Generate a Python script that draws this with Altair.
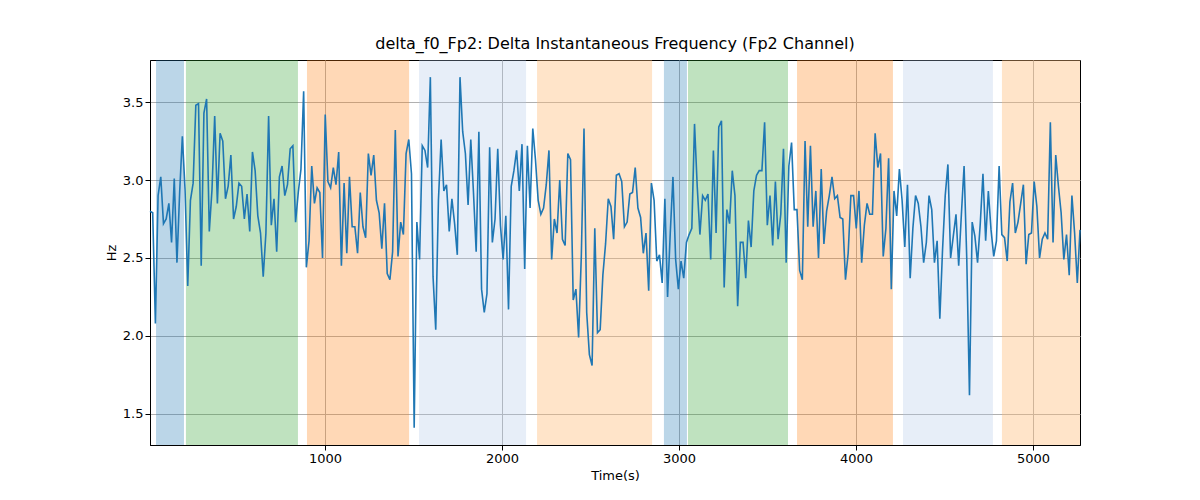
import altair as alt
import numpy as np
import pandas as pd

values = [
    2.80, 2.79, 2.08, 2.90, 3.02, 2.72, 2.75, 2.85, 2.60, 3.01, 2.47, 2.92, 3.28, 2.94, 2.32, 2.87,
    2.98, 3.48, 3.49, 2.45, 3.43, 3.52, 2.67, 2.94, 3.41, 2.85, 3.30, 3.25, 2.88, 2.96, 3.16, 2.75,
    2.83, 2.98, 2.96, 2.75, 2.91, 2.67, 3.18, 3.06, 2.77, 2.66, 2.38, 2.66, 3.41, 2.71, 2.88, 2.54,
    3.02, 3.09, 2.90, 2.97, 3.20, 3.22, 2.73, 2.92, 3.07, 3.57, 2.44, 2.61, 3.09, 2.85, 2.95, 2.92,
    2.50, 3.42, 2.99, 2.95, 3.08, 2.97, 3.18, 2.45, 2.98, 2.53, 3.02, 2.70, 2.70, 2.53, 2.92, 2.70,
    2.63, 3.17, 3.03, 3.16, 2.87, 2.79, 2.56,
    2.85, 2.40, 2.36, 2.54, 3.32, 2.51, 2.73, 2.65, 3.17, 3.26, 3.04, 1.41, 2.73, 2.49, 3.22, 3.19,
    3.08, 3.66, 2.38, 2.04, 2.87, 3.26, 2.93, 2.97, 2.67, 2.88, 2.72, 2.52, 3.66, 3.31, 3.17, 2.84,
    3.26, 2.92, 2.54, 3.31, 2.30, 2.15, 2.27, 3.21, 2.60, 2.75, 3.20, 2.71, 2.49, 2.77, 2.17, 2.96,
    3.06, 3.19, 2.93, 3.23, 2.43, 3.22, 2.82, 3.33, 3.13, 2.87, 2.78, 2.82, 2.97, 3.19, 2.49, 2.75,
    2.66, 3.00, 2.62, 2.58, 3.17, 3.13, 2.23, 2.30, 1.99, 2.51, 3.33, 2.15, 1.88, 1.81, 2.69, 2.02,
    2.04, 2.39, 2.59, 2.88, 2.83, 2.62, 3.03, 3.04,
    2.99, 2.70, 2.73, 2.91, 2.92, 3.08, 2.82, 2.76, 2.53, 2.66, 2.29, 2.98, 2.87, 2.48, 2.52, 2.34,
    2.88, 2.25, 2.66, 3.02, 2.49, 2.30, 2.48, 2.37, 2.60, 2.65, 2.69, 3.36, 2.96, 2.65, 2.90, 2.87,
    2.91, 2.49, 3.19, 2.66, 3.34, 3.38, 2.31, 2.81, 2.72, 3.06, 2.90, 2.19, 2.60, 2.60, 2.37, 2.74,
    2.57, 2.93, 3.03, 3.06, 3.06, 3.37, 2.71, 2.90, 2.58, 2.99, 2.62, 2.78, 3.20, 2.47, 3.09, 3.24,
    2.81, 2.81, 2.42, 2.36, 3.25, 2.70, 3.22, 2.70, 2.93, 2.50, 3.07, 2.59, 2.80, 2.90, 3.02, 2.88,
    2.90, 2.76, 2.75, 2.36, 2.53, 2.90, 2.90, 2.69,
    2.93, 2.47, 2.71, 2.85, 2.78, 2.78, 3.30, 3.08, 3.17, 2.51, 2.69, 3.14, 2.30, 2.93, 2.77, 3.07,
    2.87, 2.57, 2.97, 2.37, 2.69, 2.90, 2.85, 2.70, 2.47, 2.60, 2.90, 2.81, 2.47, 2.61, 2.11, 2.55,
    2.90, 3.10, 2.50, 2.64, 2.78, 2.45, 2.78, 3.09, 2.49, 1.62, 2.73, 2.64, 2.47, 2.72, 3.04, 2.61,
    2.93, 2.68, 2.51, 2.61, 3.09, 2.65, 2.63, 2.48, 2.86, 2.98, 2.66, 2.73, 2.85, 2.97, 2.46, 2.65,
    2.66, 2.99, 2.83, 2.50, 2.62, 2.66, 2.62, 3.37, 2.60, 3.16, 2.96, 2.79, 2.49, 2.65, 2.39, 2.90,
    2.66, 2.34, 2.68,
]
# evenly sampled time axis
times = np.linspace(11, 5266, len(values))

band_start = [45, 214, 898, 1531, 2198, 2915, 3051, 3667, 4266, 4825]
band_end = [203, 847, 1475, 2136, 2848, 3045, 3616, 4209, 4774, 5266]
band_color = ["#1f77b4", "#2ca02c", "#ff7f0e", "#aec7e8", "#ffbb78",
              "#1f77b4", "#2ca02c", "#ff7f0e", "#aec7e8", "#ffbb78"]
band_opacity = [0.3, 0.3, 0.3, 0.3, 0.4, 0.3, 0.3, 0.3, 0.3, 0.4]

line_df = pd.DataFrame({"t": times, "hz": values})
band_df = pd.DataFrame({"start": band_start, "end": band_end, "color": band_color, "op": band_opacity})

xs = alt.Scale(domain=[11, 5266], nice=False, zero=False)
ys = alt.Scale(domain=[1.3, 3.77], nice=False, zero=False)

bands = alt.Chart(band_df).mark_rect().encode(
    x=alt.X("start:Q", scale=xs),
    x2="end:Q",
    color=alt.Color("color:N", scale=None),
    opacity=alt.Opacity("op:Q", scale=None),
)

line = alt.Chart(line_df).mark_line(color="#1f77b4", strokeWidth=1.6).encode(
    x=alt.X(
        "t:Q",
        scale=xs,
        title="Time(s)",
        axis=alt.Axis(values=[1000, 2000, 3000, 4000, 5000], format="d", grid=True, gridColor="#b0b0b0",
                      labelFontSize=13, titleFontSize=13, titleFontWeight="normal",
                      tickColor="black", domainColor="black", labelColor="black"),
    ),
    y=alt.Y(
        "hz:Q",
        scale=ys,
        title="Hz",
        axis=alt.Axis(values=[1.5, 2.0, 2.5, 3.0, 3.5], format=".1f", grid=True, gridColor="#b0b0b0",
                      labelFontSize=13, titleFontSize=13, titleFontWeight="normal",
                      tickColor="black", domainColor="black", labelColor="black"),
    ),
)

chart = (
    (bands + line)
    .properties(
        width=930,
        height=385,
        title=alt.Title("delta_f0_Fp2: Delta Instantaneous Frequency (Fp2 Channel)",
                        fontSize=16, fontWeight="normal", offset=8),
        autosize="none",
        padding={"left": 142, "top": 52, "right": 112, "bottom": 47},
    )
    .configure(font="DejaVu Sans", background="white")
    .configure_view(stroke="black", strokeWidth=1)
)

chart.save("out.html", embed_options={"renderer": "svg", "actions": False})
